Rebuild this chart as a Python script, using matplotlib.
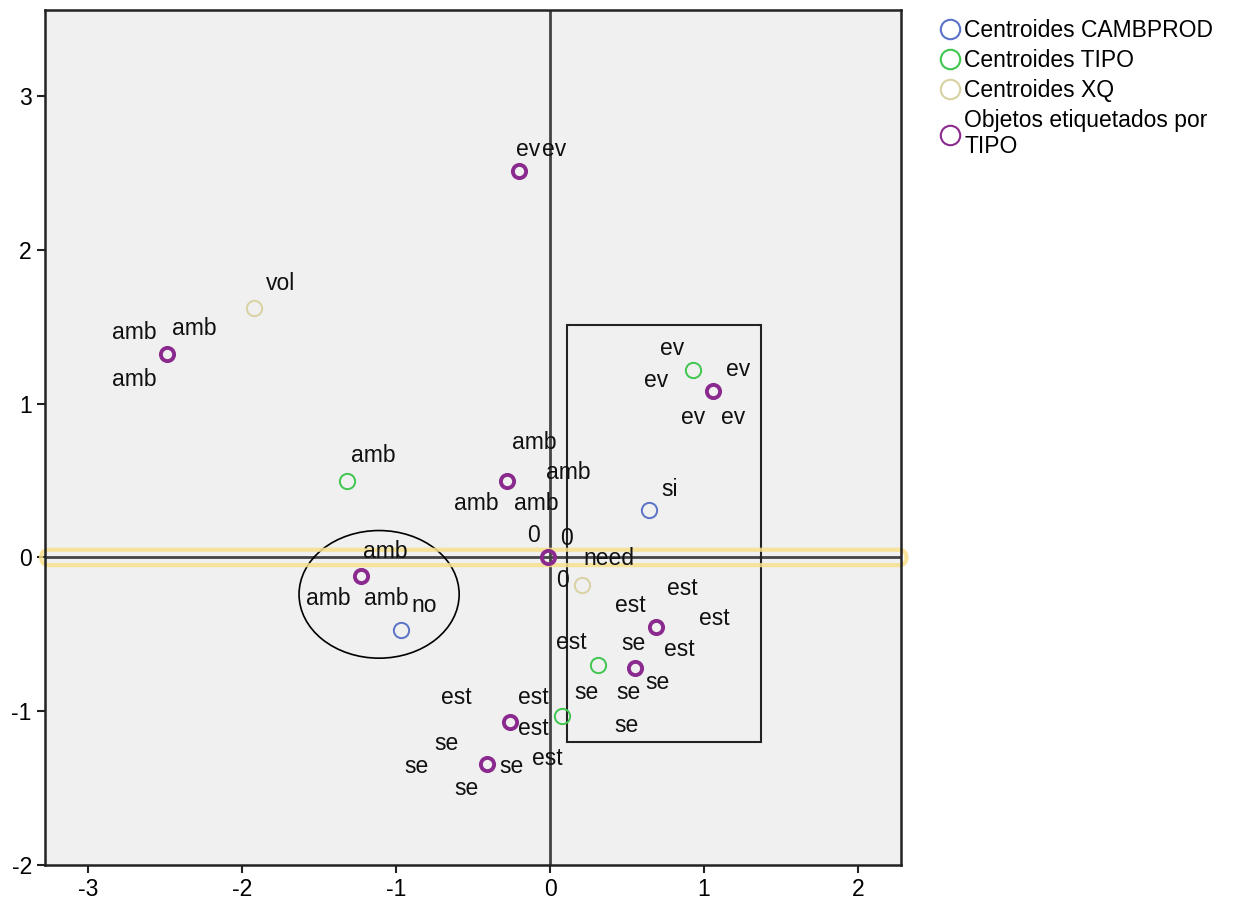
import numpy as np
import matplotlib
matplotlib.use("Agg")
import matplotlib.pyplot as plt
from matplotlib.patches import Ellipse, Rectangle, FancyBboxPatch
from matplotlib.lines import Line2D

plt.rcParams['font.family'] = ['Liberation Sans', 'DejaVu Sans']
plt.rcParams['axes.unicode_minus'] = False

# Centroides CAMBPROD
cambX = [0.64, -0.97]
cambY = [0.31, -0.47]
# Centroides TIPO
tipoX = [0.93, -1.32, 0.31, 0.08]
tipoY = [1.22, 0.50, -0.70, -1.03]
# Centroides XQ
xqX = [-1.92, 0.21]
xqY = [1.62, -0.18]
# Objetos etiquetados por TIPO
objX = [-2.49, -0.20, -0.28, 1.06, -1.23, -0.01, 0.69, 0.55, -0.26, -0.41]
objY = [1.32, 2.51, 0.50, 1.08, -0.12, 0.00, -0.45, -0.72, -1.07, -1.34]

labelText = ["ev", "ev", "vol", "amb", "amb", "amb", "amb", "amb", "amb", "amb", "amb",
             "0", "0", "0", "need", "amb", "amb", "amb", "no", "si",
             "ev", "ev", "ev", "ev", "ev",
             "est", "est", "est", "est", "se", "est", "se", "se", "se", "se",
             "est", "est", "est", "se", "se", "se", "est", "se"]
labelX = [-0.14, 0.03, -1.75, -2.70, -2.31, -2.70, -1.15, -0.10, 0.12, -0.48, -0.09,
          -0.11, 0.11, 0.08, 0.38, -1.07, -1.44, -1.06, -0.82, 0.78,
          0.79, 0.69, 1.22, 0.93, 1.19,
          0.86, 0.52, 1.07, 0.14, 0.54, 0.84, 0.70, 0.24, 0.51, 0.50,
          -0.61, -0.11, -0.11, -0.67, -0.87, -0.25, -0.02, -0.54]
labelY = [2.65, 2.65, 1.78, 1.46, 1.49, 1.16, 0.66, 0.75, 0.55, 0.35, 0.35,
          0.14, 0.12, -0.15, -0.01, 0.04, -0.27, -0.27, -0.31, 0.44,
          1.36, 1.15, 1.22, 0.91, 0.91,
          -0.20, -0.31, -0.40, -0.55, -0.56, -0.60, -0.81, -0.88, -0.88, -1.09,
          -0.91, -0.91, -1.11, -1.21, -1.36, -1.36, -1.31, -1.50]

colors = ["#5b72c9", "#3fc64f", "#d8d2a2", "#8a2a8e"]
names = ["Centroides CAMBPROD", "Centroides TIPO", "Centroides XQ", "Objetos etiquetados por\nTIPO"]

fig = plt.figure(figsize=(12.36, 9.09), dpi=100)
ax = fig.add_axes([0.0364, 0.0484, 0.6926, 0.9406])
ax.set_facecolor("#f0f0f0")

ax.axhline(0, color="#444444", lw=2, zorder=1)
ax.axvline(0, color="#444444", lw=2, zorder=1)

ax.plot(cambX, cambY, "o", ms=11, mfc="none", mec=colors[0], mew=1.4, zorder=3)
ax.plot(tipoX, tipoY, "o", ms=11, mfc="none", mec=colors[1], mew=1.4, zorder=3)
ax.plot(xqX, xqY, "o", ms=11, mfc="none", mec=colors[2], mew=1.4, zorder=3)
ax.plot(objX, objY, "o", ms=9.5, mfc="none", mec=colors[3], mew=2.8, zorder=3)

for t, x, y in zip(labelText, labelX, labelY):
    ax.text(x, y, t, fontsize=16.5, ha="center", va="center", color="#111111", zorder=4)

ax.add_patch(Ellipse((-1.11, -0.24), 1.04, 0.83, fill=False, ec="black", lw=1.2, zorder=2))
ax.add_patch(Rectangle((0.11, -1.20), 1.26, 2.71, fill=False, ec="#222222", lw=1.5, zorder=2))
ax.add_patch(FancyBboxPatch((-3.30, -0.045), 5.61, 0.09, boxstyle="round,pad=0.005,rounding_size=0.05",
                            fill=False, ec="#f7e08c", lw=3, alpha=0.85, clip_on=False, zorder=2))

ax.set_xlim(-3.28, 2.28)
ax.set_ylim(-2.0, 3.56)
ax.set_xticks([-3, -2, -1, 0, 1, 2])
ax.set_yticks([-2, -1, 0, 1, 2, 3])
ax.tick_params(labelsize=16.5, length=6, width=1.5, color="#222222")
for s in ax.spines.values():
    s.set_linewidth(1.8)
    s.set_color("#222222")

handles = [Line2D([], [], ls="none", marker="o", ms=14, mfc="none", mec=c, mew=1.5) for c in colors]
ax.legend(handles, names, loc="upper left", bbox_to_anchor=(1.035, 1.0), frameon=False, fontsize=16.5,
          handlelength=0.9, handletextpad=0.15, labelspacing=0.3, borderaxespad=0)

fig.savefig("out.png", dpi=100)
